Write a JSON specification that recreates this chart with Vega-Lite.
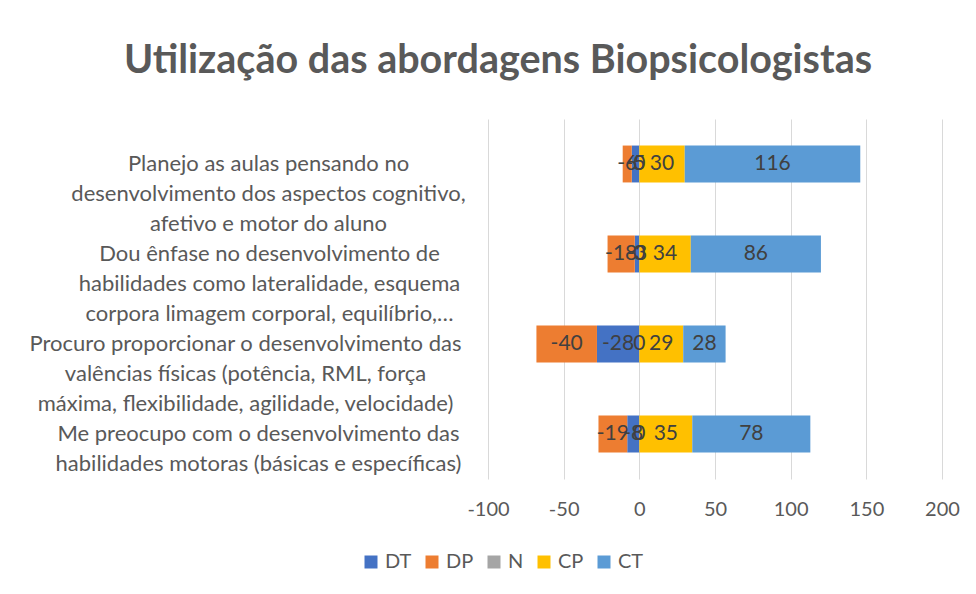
{
  "$schema": "https://vega.github.io/schema/vega-lite/v6.json",
  "autosize": {"type": "none"},
  "padding": {"left": 488, "top": 119, "right": 34, "bottom": 115},
  "width": 454,
  "height": 360,
  "background": "white",
  "config": {
    "font": "Lato",
    "view": {"stroke": null},
    "axis": {"labelFont": "Lato", "labelColor": "#595959", "labelFontSize": 20}
  },
  "title": {
    "text": "Utilização das abordagens Biopsicologistas",
    "font": "Lato",
    "fontSize": 39.5,
    "fontWeight": "bold",
    "color": "#595959",
    "anchor": "middle",
    "dx": -217,
    "offset": 38
  },
  "data": {
    "values": [
      {"item": "Planejo as aulas pensando no|desenvolvimento dos aspectos cognitivo,|afetivo e motor do aluno", "resp": "DT", "ord": 1, "v": -5},
      {"item": "Planejo as aulas pensando no|desenvolvimento dos aspectos cognitivo,|afetivo e motor do aluno", "resp": "DP", "ord": 2, "v": -6},
      {"item": "Planejo as aulas pensando no|desenvolvimento dos aspectos cognitivo,|afetivo e motor do aluno", "resp": "N", "ord": 3, "v": 0},
      {"item": "Planejo as aulas pensando no|desenvolvimento dos aspectos cognitivo,|afetivo e motor do aluno", "resp": "CP", "ord": 4, "v": 30},
      {"item": "Planejo as aulas pensando no|desenvolvimento dos aspectos cognitivo,|afetivo e motor do aluno", "resp": "CT", "ord": 5, "v": 116},
      {"item": "Dou ênfase no desenvolvimento de|habilidades como lateralidade, esquema|corpora limagem corporal, equilíbrio,…", "resp": "DT", "ord": 1, "v": -3},
      {"item": "Dou ênfase no desenvolvimento de|habilidades como lateralidade, esquema|corpora limagem corporal, equilíbrio,…", "resp": "DP", "ord": 2, "v": -18},
      {"item": "Dou ênfase no desenvolvimento de|habilidades como lateralidade, esquema|corpora limagem corporal, equilíbrio,…", "resp": "N", "ord": 3, "v": 0},
      {"item": "Dou ênfase no desenvolvimento de|habilidades como lateralidade, esquema|corpora limagem corporal, equilíbrio,…", "resp": "CP", "ord": 4, "v": 34},
      {"item": "Dou ênfase no desenvolvimento de|habilidades como lateralidade, esquema|corpora limagem corporal, equilíbrio,…", "resp": "CT", "ord": 5, "v": 86},
      {"item": "Procuro proporcionar o desenvolvimento das|valências físicas (potência, RML, força|máxima, flexibilidade, agilidade, velocidade)", "resp": "DT", "ord": 1, "v": -28},
      {"item": "Procuro proporcionar o desenvolvimento das|valências físicas (potência, RML, força|máxima, flexibilidade, agilidade, velocidade)", "resp": "DP", "ord": 2, "v": -40},
      {"item": "Procuro proporcionar o desenvolvimento das|valências físicas (potência, RML, força|máxima, flexibilidade, agilidade, velocidade)", "resp": "N", "ord": 3, "v": 0},
      {"item": "Procuro proporcionar o desenvolvimento das|valências físicas (potência, RML, força|máxima, flexibilidade, agilidade, velocidade)", "resp": "CP", "ord": 4, "v": 29},
      {"item": "Procuro proporcionar o desenvolvimento das|valências físicas (potência, RML, força|máxima, flexibilidade, agilidade, velocidade)", "resp": "CT", "ord": 5, "v": 28},
      {"item": "Me preocupo com o desenvolvimento das|habilidades motoras (básicas e específicas)", "resp": "DT", "ord": 1, "v": -8},
      {"item": "Me preocupo com o desenvolvimento das|habilidades motoras (básicas e específicas)", "resp": "DP", "ord": 2, "v": -19},
      {"item": "Me preocupo com o desenvolvimento das|habilidades motoras (básicas e específicas)", "resp": "N", "ord": 3, "v": 0},
      {"item": "Me preocupo com o desenvolvimento das|habilidades motoras (básicas e específicas)", "resp": "CP", "ord": 4, "v": 35},
      {"item": "Me preocupo com o desenvolvimento das|habilidades motoras (básicas e específicas)", "resp": "CT", "ord": 5, "v": 78}
    ]
  },
  "transform": [
    {"stack": "v", "groupby": ["item"], "sort": [{"field": "ord", "order": "ascending"}], "as": ["x0", "x1"], "offset": "zero"},
    {"calculate": "(datum.x0 + datum.x1) / 2", "as": "xm"}
  ],
  "encoding": {
    "y": {
      "field": "item",
      "type": "nominal",
      "sort": null,
      "title": null,
      "scale": {"paddingInner": 0.59, "paddingOuter": 0.295},
      "axis": {
        "domain": false,
        "ticks": false,
        "grid": false,
        "labelAlign": "center",
        "labelBaseline": "middle",
        "labelPadding": {
          "condition": [
            {"test": "indexof(datum.value, 'Procuro') == 0", "value": 243},
            {"test": "indexof(datum.value, 'Me ') == 0", "value": 230},
            {"test": "indexof(datum.value, 'Dou') == 0", "value": 219}
          ],
          "value": 220
        },
        "labelLimit": 1000,
        "labelFontSize": 22,
        "labelLineHeight": 30,
        "labelExpr": "split(datum.label, '|')"
      }
    }
  },
  "layer": [
    {
      "mark": {"type": "bar"},
      "encoding": {
        "x": {
          "field": "x0",
          "type": "quantitative",
          "title": null,
          "scale": {"domain": [-100, 200], "nice": false, "zero": false},
          "axis": {
            "values": [-100, -50, 0, 50, 100, 150, 200],
            "labelExpr": "toString(datum.value)",
            "domain": false,
            "ticks": false,
            "grid": true,
            "gridColor": "#d9d9d9",
            "gridWidth": 1,
            "labelPadding": 20,
            "labelFlush": false
          }
        },
        "x2": {"field": "x1"},
        "color": {
          "field": "resp",
          "type": "nominal",
          "title": null,
          "scale": {
            "domain": ["DT", "DP", "N", "CP", "CT"],
            "range": ["#4472C4", "#ED7D31", "#A5A5A5", "#FFC000", "#5B9BD5"]
          },
          "legend": {
            "orient": "none",
            "legendX": -127,
            "legendY": 433,
            "direction": "horizontal",
            "symbolType": "square",
            "symbolSize": 169,
            "symbolStrokeWidth": 0,
            "labelFont": "Lato",
            "labelFontSize": 20,
            "labelColor": "#595959",
            "labelOffset": 4,
            "columnPadding": 10
          }
        }
      }
    },
    {
      "mark": {"type": "rule", "color": "#d9d9d9", "strokeWidth": 2},
      "encoding": {"x": {"datum": 0}}
    },
    {
      "mark": {"type": "text", "fontSize": 21, "color": "#404040", "font": "Lato", "baseline": "middle"},
      "encoding": {
        "x": {"field": "xm", "type": "quantitative"},
        "text": {"field": "v", "type": "nominal"}
      }
    }
  ]
}
